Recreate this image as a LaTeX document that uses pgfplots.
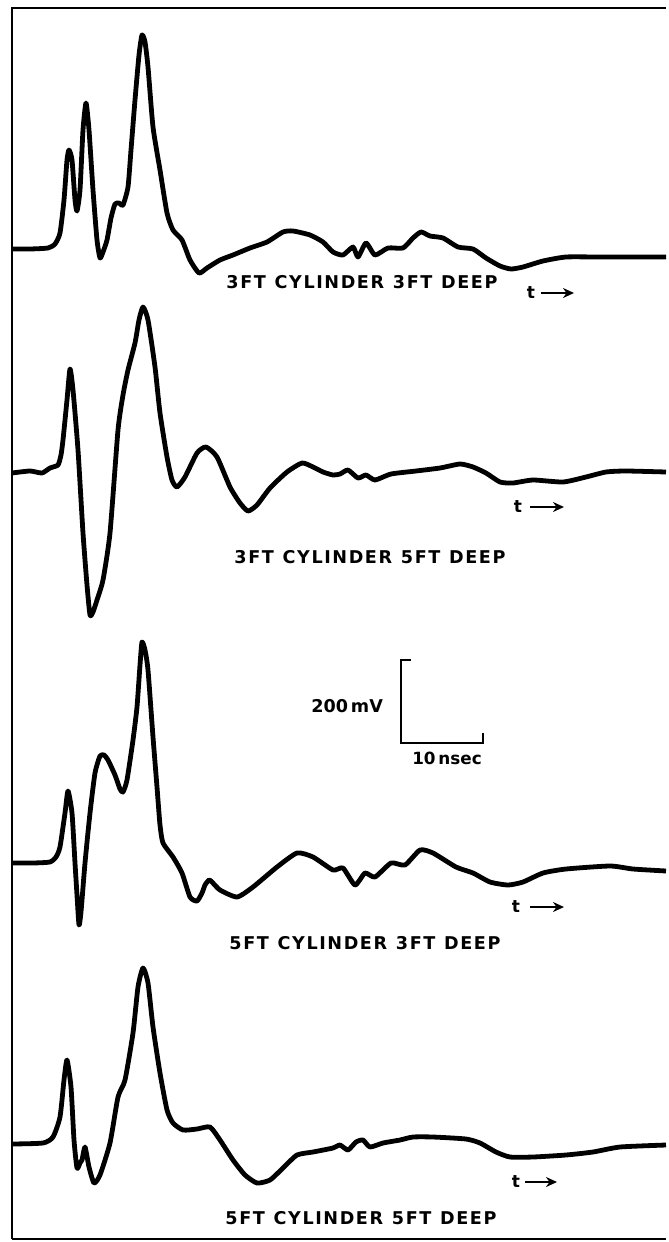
\documentclass[border=0pt]{standalone}
\usepackage{fontspec}
\setmainfont{DejaVu Sans}
\usepackage{pgfplots}
\pgfplotsset{compat=1.18}
\usetikzlibrary{arrows.meta}
\newcommand\lab[1]{{\fontsize{8.8}{10}\bfseries\selectfont\addfontfeatures{LetterSpace=9}#1}}
\newcommand\sep{\hspace{0.5em}}
\begin{document}
\begin{tikzpicture}
\begin{axis}[width=333pt,height=621pt,scale only axis,
  xmin=0,xmax=666,ymin=0,ymax=1242,y dir=reverse,
  hide axis, clip=false]
\path (axis cs:0,0) rectangle (axis cs:666,1242);
% frame
\draw[line width=1.4pt] (axis cs:12,1239) -- (axis cs:12,8) -- (axis cs:666,8);
\draw[line width=1.4pt] (axis cs:12,1239) -- (axis cs:666,1239);
% trace 1
\addplot[black, line width=2.4pt, smooth, tension=0.35, line join=round] coordinates {
(12,249)(30,249)(48,248)(55,244)(60,233)(64,200)(67,160)(69,150)(72,160)(75,200)(77,211)(80,190)(83,130)(86,103)(89,130)(93,190)(97,240)(100,258)(103,252)(107,240)(111,218)(115,204)(119,203)(123,205)(128,187)(131,150)(135,100)(139,55)(142,35)(145,42)(148,67)(153,127)(160,170)(167,213)(173,230)(182,240)(190,260)(199,273)(207,268)(220,260)(233,255)(250,248)(267,242)(283,232)(293,231)(310,235)(323,242)(333,252)(343,255)(353,247)(358,257)(366,243)(375,255)(388,248)(403,248)(413,238)(421,232)(430,236)(443,238)(458,247)(473,249)(486,258)(500,266)(511,269)(523,267)(543,261)(566,257)(600,257)(666,257)
};
% trace 2
\addplot[black, line width=2.4pt, smooth, tension=0.35, line join=round] coordinates {
(12,473)(30,471)(42,473)(50,468)(58,465)(61,455)(63,440)(67,400)(70,369)(73,390)(78,450)(83,533)(87,585)(90,615)(93,612)(97,600)(103,580)(110,533)(118,430)(123,395)(128,370)(135,343)(139,320)(143,307)(148,320)(155,367)(160,413)(167,457)(172,480)(177,487)(185,477)(197,453)(206,447)(217,457)(230,487)(240,503)(248,511)(257,505)(270,488)(287,472)(302,463)(313,467)(323,472)(333,475)(340,474)(348,470)(358,478)(366,475)(375,480)(391,474)(416,471)(440,468)(460,464)(473,467)(486,473)(500,482)(513,483)(533,480)(563,482)(586,477)(606,472)(626,471)(666,472)
};
% trace 3
\addplot[black, line width=2.4pt, smooth, tension=0.35, line join=round] coordinates {
(12,863)(33,863)(50,862)(56,857)(60,847)(65,813)(68,791)(72,813)(75,863)(77,895)(79,925)(81,912)(85,863)(90,813)(95,773)(100,756)(104,755)(108,760)(115,775)(120,789)(123,792)(127,780)(133,740)(137,707)(140,665)(142,642)(145,650)(148,670)(153,737)(157,787)(160,825)(163,843)(173,857)(182,873)(190,897)(197,901)(202,893)(205,885)(209,880)(212,882)(220,890)(237,897)(253,887)(277,867)(297,853)(313,857)(333,870)(343,868)(355,885)(365,873)(375,877)(391,863)(405,865)(420,850)(433,853)(456,867)(473,873)(490,882)(508,885)(523,882)(543,873)(566,869)(610,866)(633,869)(666,871)
};
% trace 4
\addplot[black, line width=2.4pt, smooth, tension=0.35, line join=round] coordinates {
(12,1144)(43,1143)(53,1137)(60,1117)(64,1080)(67,1060)(71,1087)(74,1140)(77,1168)(80,1163)(82,1160)(85,1147)(89,1167)(94,1183)(100,1175)(110,1143)(118,1097)(125,1080)(133,1033)(138,987)(143,968)(148,983)(153,1027)(160,1073)(167,1110)(173,1123)(183,1130)(197,1129)(210,1127)(220,1140)(233,1160)(245,1175)(257,1183)(270,1180)(283,1168)(297,1155)(313,1152)(333,1148)(340,1145)(348,1150)(356,1142)(363,1140)(370,1147)(383,1143)(400,1140)(413,1137)(433,1137)(466,1139)(480,1143)(496,1152)(510,1157)(533,1157)(566,1155)(593,1152)(620,1147)(666,1145)
};
% labels
\node at (axis cs:362,282) {\lab{3FT\sep CYLINDER\sep 3FT\sep DEEP}};
\node at (axis cs:370,557) {\lab{3FT\sep CYLINDER\sep 5FT\sep DEEP}};
\node at (axis cs:365,943) {\lab{5FT\sep CYLINDER\sep 3FT\sep DEEP}};
\node at (axis cs:361,1218) {\lab{5FT\sep CYLINDER\sep 5FT\sep DEEP}};
% t arrows
\node[font=\bfseries\fontsize{8.5}{9}\selectfont] at (axis cs:531,293) {t};
\draw[line width=1.2pt,-{Stealth[length=5.5pt,width=5pt]}] (axis cs:541,293) -- (axis cs:574,293);
\node[font=\bfseries\fontsize{8.5}{9}\selectfont] at (axis cs:518,507) {t};
\draw[line width=1.2pt,-{Stealth[length=5.5pt,width=5pt]}] (axis cs:530,507) -- (axis cs:564,507);
\node[font=\bfseries\fontsize{8.5}{9}\selectfont] at (axis cs:516,907) {t};
\draw[line width=1.2pt,-{Stealth[length=5.5pt,width=5pt]}] (axis cs:530,907) -- (axis cs:564,907);
\node[font=\bfseries\fontsize{8.5}{9}\selectfont] at (axis cs:516,1182) {t};
\draw[line width=1.2pt,-{Stealth[length=5.5pt,width=5pt]}] (axis cs:525,1182) -- (axis cs:557,1182);
% scale bar
\draw[line width=1.3pt] (axis cs:411,660) -- (axis cs:401,660) -- (axis cs:401,743) -- (axis cs:483,743) -- (axis cs:483,733);
\node[anchor=east,font=\bfseries\fontsize{8.8}{10}\selectfont] at (axis cs:390,706) {200\,mV};
\node[font=\bfseries\fontsize{8.4}{10}\selectfont] at (axis cs:447,758) {10\,nsec};
\end{axis}
\end{tikzpicture}
\end{document}
